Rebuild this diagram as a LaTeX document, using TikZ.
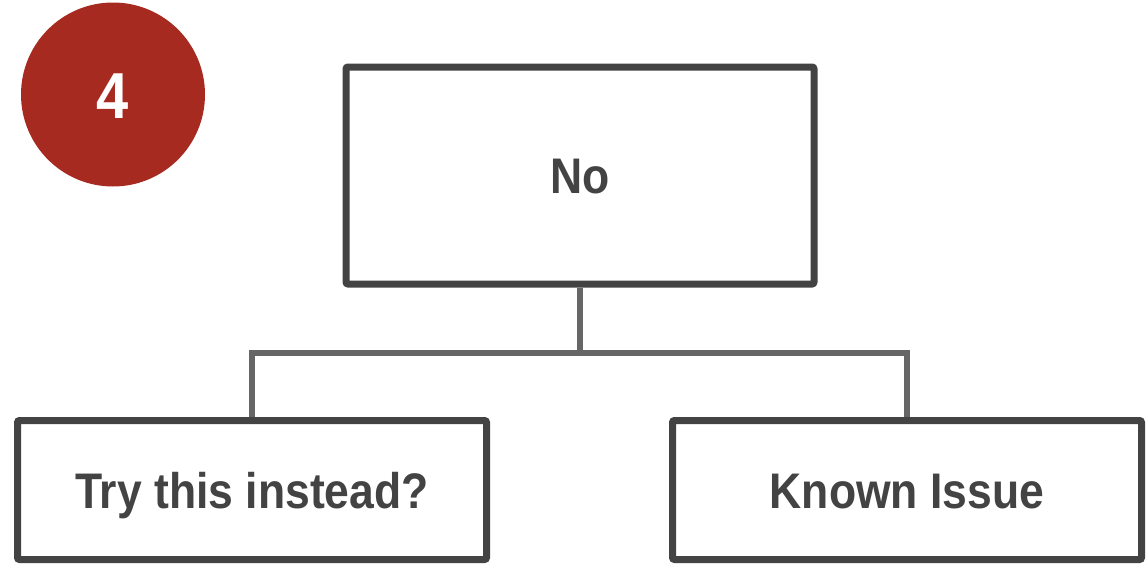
\documentclass[tikz,border=0pt]{standalone}
\usepackage{fontspec}
\setmainfont{Liberation Sans}[FakeStretch=0.89]
\definecolor{boxgray}{HTML}{434343}
\definecolor{conngray}{HTML}{666666}
\definecolor{badgered}{HTML}{A62A1F}
\begin{document}
\begin{tikzpicture}[x=1pt,y=-1pt,
  box/.style={draw=boxgray, line width=7pt, rounded corners=2pt, fill=white,
    text=boxgray, font=\fontsize{50}{56}\selectfont\bfseries,
    text height=36pt, text depth=0pt, inner sep=0pt},
  conn/.style={draw=conngray, line width=6pt, line join=miter},
  badge/.style={circle, fill=badgered, text=white, minimum size=184pt, inner sep=0pt,
    font=\fontsize{65}{70}\selectfont\bfseries, text height=47pt, text depth=0pt}]
\useasboundingbox (0,0) rectangle (1148,565);
\node[badge] (b) at (113,94.5) {4};
\node[box, minimum width=468pt, minimum height=217pt] (top) at (580,175.5) {No};
\node[box, minimum width=469pt, minimum height=139pt] (left) at (252,490) {Try this instead?};
\node[box, minimum width=469pt, minimum height=139pt] (right) at (907,490) {Known Issue};
\coordinate (j) at (580,353);
\draw[conn] (top.south) -- (j);
\draw[conn] (left.north) |- (j) -| (right.north);
\end{tikzpicture}
\end{document}
